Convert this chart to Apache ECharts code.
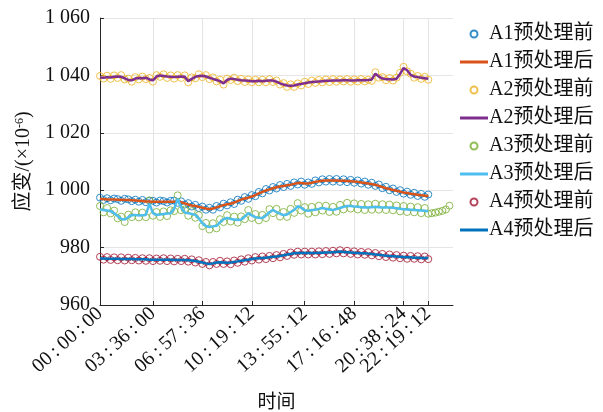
<!DOCTYPE html>
<html>
<head>
<meta charset="utf-8">
<script src="https://cdn.jsdelivr.net/npm/echarts@6/dist/echarts.min.js"></script>
<style>
html, body { margin: 0; padding: 0; background: #fff; }
#main { width: 603px; height: 412px; }
</style>
</head>
<body>
<div id="main"></div>
<script>
// x is the sample index, one sample every 14.4 min
var xTickPos = [0, 15, 29, 43, 58, 72, 86, 93];
var xTickLabels = ['00:00:00', '03:36:00', '06:57:36', '10:19:12', '13:55:12', '17:16:48', '20:38:24', '22:19:12'];
var sensors = ['A1', 'A2', 'A3', 'A4'];

// 预处理前 (raw)
var a1Raw = [997.4, 996.6, 997.2, 996.5, 997.1, 996.9, 996.3, 997.0, 996.8, 996.2,
    996.7, 996.0, 996.6, 995.8, 996.4, 996.3, 995.7, 996.4, 996.2, 995.7,
    996.3, 996.4, 995.6, 996.1, 995.0, 995.5, 994.3, 994.9, 993.8, 994.3,
    993.2, 993.9, 993.2, 994.5, 994.0, 995.3, 994.7, 995.8, 995.2, 996.7,
    996.3, 997.6, 997.0, 998.3, 997.9, 999.4, 998.9, 1000.4, 999.9, 1001.1,
    1000.6, 1001.8, 1001.1, 1002.2, 1001.5, 1002.7, 1002.0, 1003.0, 1001.9, 1002.7,
    1002.2, 1003.4, 1002.7, 1003.8, 1003.0, 1003.9, 1003.0, 1003.9, 1002.9, 1003.8,
    1002.8, 1003.6, 1002.6, 1003.4, 1002.3, 1003.0, 1001.9, 1002.6, 1001.5, 1002.0,
    1000.7, 1001.2, 1000.0, 1000.6, 999.4, 1000.0, 998.8, 999.5, 998.4, 999.1,
    998.0, 998.7, 997.7, 998.5];
var a2Raw = [1039.8, 1038.9, 1039.9, 1038.8, 1040.0, 1039.1, 1040.1, 1038.6, 1038.9, 1037.8,
    1039.4, 1038.6, 1039.6, 1038.7, 1039.1, 1037.8, 1040.1, 1039.5, 1040.4, 1039.1,
    1040.0, 1038.9, 1040.1, 1039.1, 1040.0, 1037.6, 1039.3, 1039.0, 1040.4, 1039.4,
    1040.1, 1038.7, 1039.3, 1037.9, 1038.5, 1036.8, 1038.9, 1038.4, 1039.2, 1038.0,
    1038.8, 1037.7, 1038.6, 1037.6, 1038.5, 1037.6, 1038.5, 1037.6, 1038.7, 1037.7,
    1038.2, 1036.8, 1037.3, 1036.0, 1036.9, 1036.0, 1037.2, 1036.5, 1037.8, 1037.0,
    1038.2, 1037.4, 1038.4, 1037.6, 1038.6, 1037.7, 1038.7, 1037.8, 1038.6, 1037.9,
    1038.7, 1037.8, 1038.6, 1037.9, 1038.7, 1037.9, 1038.5, 1038.1, 1041.1, 1039.2,
    1039.4, 1038.3, 1039.1, 1038.2, 1039.2, 1040.9, 1043.0, 1041.4, 1040.6, 1039.2,
    1039.8, 1038.8, 1039.5, 1038.5];
var a3Raw = [994.5, 992.3, 993.8, 991.9, 992.9, 990.2, 990.8, 988.9, 991.5, 990.6,
    992.3, 990.5, 992.2, 990.6, 996.4, 991.1, 992.4, 990.7, 992.6, 991.0,
    993.0, 992.7, 998.2, 993.0, 993.3, 991.1, 992.7, 990.4, 991.3, 987.5,
    988.6, 986.3, 988.5, 986.7, 989.9, 988.9, 991.3, 989.1, 990.8, 988.7,
    990.9, 989.9, 993.1, 990.3, 991.7, 989.5, 991.4, 990.3, 993.4, 992.0,
    993.5, 990.8, 992.4, 990.7, 993.5, 992.1, 995.5, 992.9, 994.1, 991.8,
    994.2, 992.3, 994.6, 992.9, 994.6, 992.4, 994.2, 992.5, 994.9, 993.3,
    995.6, 993.6, 995.4, 993.3, 995.2, 993.1, 995.1, 993.2, 995.3, 993.2,
    995.1, 993.1, 995.0, 993.0, 994.7, 992.6, 994.5, 992.4, 994.3, 992.3,
    994.1, 992.0, 993.8, 991.8, 992.0, 992.2, 992.5, 992.8, 993.3, 994.6];
var a4Raw = [976.8, 975.8, 976.7, 975.7, 976.6, 975.6, 976.6, 975.5, 976.5, 975.6,
    976.4, 975.5, 976.3, 975.4, 976.3, 975.3, 976.2, 975.4, 976.3, 975.3,
    976.2, 975.2, 976.1, 975.3, 976.1, 975.1, 975.9, 974.8, 975.6, 974.3,
    975.0, 973.8, 975.0, 974.3, 975.4, 974.3, 975.2, 974.2, 975.5, 974.7,
    975.9, 975.1, 976.3, 975.5, 976.7, 975.8, 976.9, 976.0, 977.1, 976.3,
    977.4, 976.6, 977.8, 977.1, 978.3, 977.5, 978.6, 977.6, 978.6, 977.6,
    978.6, 977.6, 978.7, 977.7, 978.8, 977.8, 978.9, 978.0, 979.1, 978.0,
    978.9, 977.8, 978.7, 977.6, 978.5, 977.5, 978.4, 977.3, 978.1, 977.0,
    977.8, 976.7, 977.6, 976.5, 977.4, 976.3, 977.2, 976.1, 977.1, 976.1,
    977.0, 975.9, 976.9, 976.0];

// 预处理后 (smoothed)
var a1Proc = [996.9, 996.9, 996.8, 996.8, 996.8, 996.7, 996.7, 996.6, 996.6, 996.5,
    996.4, 996.3, 996.2, 996.1, 996.1, 996.0, 996.0, 996.0, 996.0, 996.0,
    996.0, 996.0, 996.0, 995.8, 995.4, 995.0, 994.7, 994.5, 994.2, 993.9,
    993.6, 993.4, 993.6, 994.0, 994.4, 994.8, 995.1, 995.3, 995.7, 996.2,
    996.7, 997.1, 997.4, 997.8, 998.3, 998.9, 999.4, 999.9, 1000.3, 1000.7,
    1001.0, 1001.3, 1001.5, 1001.7, 1001.9, 1002.2, 1002.5, 1002.5, 1002.3, 1002.3,
    1002.6, 1002.9, 1003.1, 1003.3, 1003.4, 1003.4, 1003.4, 1003.4, 1003.3, 1003.3,
    1003.2, 1003.1, 1003.0, 1002.9, 1002.7, 1002.5, 1002.3, 1002.1, 1001.9, 1001.5,
    1001.1, 1000.7, 1000.4, 1000.1, 999.8, 999.5, 999.2, 999.0, 998.8, 998.6,
    998.4, 998.2, 998.1, 998.0];
var a2Proc = [1039.3, 1039.2, 1039.4, 1039.3, 1039.5, 1039.6, 1039.5, 1039.0, 1038.4, 1038.3,
    1038.9, 1039.1, 1039.0, 1039.2, 1038.6, 1038.3, 1039.6, 1040.0, 1039.8, 1039.6,
    1039.5, 1039.4, 1039.5, 1039.6, 1039.5, 1038.0, 1038.8, 1039.5, 1039.8, 1039.9,
    1039.6, 1039.2, 1038.8, 1038.4, 1038.0, 1037.2, 1038.4, 1038.9, 1038.7, 1038.5,
    1038.3, 1038.2, 1038.1, 1038.0, 1038.0, 1038.1, 1038.0, 1038.1, 1038.2, 1038.2,
    1037.8, 1037.2, 1036.8, 1036.5, 1036.4, 1036.5, 1036.8, 1037.0, 1037.3, 1037.5,
    1037.7, 1037.8, 1037.9, 1038.0, 1038.1, 1038.1, 1038.2, 1038.2, 1038.2, 1038.3,
    1038.3, 1038.2, 1038.2, 1038.3, 1038.3, 1038.3, 1038.4, 1038.6, 1040.6, 1039.6,
    1038.9, 1038.7, 1038.7, 1038.6, 1038.8, 1040.5, 1042.6, 1041.8, 1040.2, 1039.6,
    1039.4, 1039.2, 1039.0, 1038.8];
var a3Proc = [993.3, 993.1, 992.9, 992.7, 992.0, 991.0, 990.0, 989.8, 990.6, 991.3,
    991.4, 991.2, 991.3, 991.4, 995.3, 992.0, 991.4, 991.5, 991.7, 991.9,
    992.0, 993.5, 997.0, 994.0, 992.2, 992.0, 991.7, 991.4, 990.2, 988.5,
    987.5, 987.2, 987.4, 987.6, 988.8, 989.9, 990.3, 990.0, 989.8, 989.6,
    989.8, 990.8, 992.0, 991.2, 990.6, 990.4, 990.3, 991.2, 992.3, 993.1,
    992.4, 991.8, 991.3, 991.5, 992.4, 993.1, 994.4, 993.9, 993.0, 992.8,
    993.1, 993.2, 993.5, 993.8, 993.5, 993.3, 993.1, 993.4, 993.8, 994.2,
    994.5, 994.5, 994.3, 994.2, 994.1, 994.0, 994.0, 994.1, 994.2, 994.1,
    994.0, 994.0, 994.0, 993.9, 993.7, 993.5, 993.4, 993.3, 993.2, 993.1,
    993.0, 992.9, 992.8, 992.7];
var a4Proc = [976.2, 976.2, 976.1, 976.1, 976.1, 976.1, 976.0, 976.0, 976.0, 976.0,
    975.9, 975.9, 975.9, 975.9, 975.8, 975.8, 975.8, 975.8, 975.8, 975.8,
    975.8, 975.7, 975.7, 975.7, 975.7, 975.6, 975.5, 975.3, 975.1, 974.8,
    974.5, 974.3, 974.5, 974.8, 974.9, 974.8, 974.7, 974.8, 975.0, 975.2,
    975.4, 975.6, 975.8, 976.0, 976.2, 976.3, 976.4, 976.5, 976.6, 976.8,
    976.9, 977.1, 977.3, 977.6, 977.8, 978.0, 978.1, 978.1, 978.1, 978.1,
    978.1, 978.1, 978.2, 978.2, 978.3, 978.3, 978.4, 978.5, 978.6, 978.5,
    978.4, 978.3, 978.2, 978.1, 978.0, 978.0, 977.9, 977.8, 977.6, 977.5,
    977.3, 977.2, 977.1, 977.0, 976.9, 976.8, 976.7, 976.6, 976.6, 976.5,
    976.5, 976.4, 976.4, 976.4];

var rawData = [a1Raw, a2Raw, a3Raw, a4Raw];
var procData = [a1Proc, a2Proc, a3Proc, a4Proc];
var rawColors = ['#0072BD', '#EDB120', '#77AC30', '#A2142F'];
var procColors = ['#D95319', '#7E2F8E', '#4DBEEE', '#0072BD'];

var FONT = "'Liberation Serif', 'Times New Roman', 'Noto Sans CJK SC', serif";
var LINE_ICON = 'path://M0,0H28V3H0Z';

function toPoints(arr) {
    return arr.map(function (v, i) { return [i, v]; });
}

function tickLabel(v) {
    var k = xTickPos.indexOf(v);
    return k >= 0 ? xTickLabels[k].replace(/:/g, '\u2009:\u2009') : '';
}

var series = [];
var legendData = [];
sensors.forEach(function (s, k) {
    legendData.push({ name: s + '预处理前' });
    legendData.push({ name: s + '预处理后', icon: LINE_ICON });
    series.push({
        name: s + '预处理前',
        type: 'scatter',
        symbol: 'circle',
        symbolSize: 7,
        itemStyle: { color: 'rgba(0,0,0,0)', borderColor: rawColors[k], borderWidth: 1 },
        data: toPoints(rawData[k])
    });
    series.push({
        name: s + '预处理后',
        type: 'line',
        symbol: 'none',
        lineStyle: { color: procColors[k], width: 2.5 },
        itemStyle: { color: procColors[k] },
        data: toPoints(procData[k])
    });
});

var labelStyle = {
    rotate: 42,
    margin: 6,
    hideOverlap: false,
    fontFamily: FONT,
    fontSize: 20,
    color: '#111',
    formatter: tickLabel
};

var chart = echarts.init(document.getElementById('main'));
var option = {
    animation: false,
    backgroundColor: '#fff',
    grid: { left: 100, right: 150, top: 18, bottom: 107, outerBoundsMode: 'none', containLabel: false },
    legend: {
        orient: 'vertical',
        left: 455,
        top: 19,
        itemWidth: 28,
        itemHeight: 7,
        itemGap: 8,
        data: legendData,
        textStyle: { fontFamily: FONT, fontSize: 20, color: '#111', padding: [0, 0, 0, -4] }
    },
    xAxis: [{
        type: 'value',
        min: 0,
        max: 100,
        name: '时间',
        nameLocation: 'middle',
        nameGap: 89,
        nameTextStyle: { fontFamily: FONT, fontSize: 19, color: '#111' },
        axisLine: { lineStyle: { color: '#262626', width: 1 } },
        axisTick: { inside: true, length: 4, customValues: xTickPos, lineStyle: { color: '#262626' } },
        axisLabel: Object.assign({ customValues: xTickPos.slice(0, -1) }, labelStyle),
        splitLine: { show: true, lineStyle: { color: '#e5e5e5', width: 1 } }
    }, {
        // the last tick label overlaps its neighbour in the original, so it sits on its own axis
        type: 'value',
        position: 'bottom',
        offset: 0,
        min: 0,
        max: 100,
        axisLine: { show: false },
        axisTick: { show: false },
        splitLine: { show: false },
        axisLabel: Object.assign({ customValues: xTickPos.slice(-1) }, labelStyle)
    }],
    yAxis: {
        type: 'value',
        min: 960,
        max: 1060,
        interval: 20,
        name: '应变/(×10{sup|-6})',
        nameLocation: 'middle',
        nameGap: 59,
        nameTextStyle: {
            fontFamily: FONT, fontSize: 20, color: '#111',
            rich: { sup: { fontFamily: FONT, fontSize: 12, color: '#111', verticalAlign: 'top', lineHeight: 12 } }
        },
        axisLine: { show: true, lineStyle: { color: '#262626', width: 1 } },
        axisTick: { show: true, inside: true, length: 4, lineStyle: { color: '#262626' } },
        axisLabel: {
            margin: 10,
            fontFamily: FONT,
            fontSize: 20,
            color: '#111',
            formatter: function (v) {
                return v >= 1000 ? String(v).replace(/^(\d)(\d{3})$/, '$1 $2') : String(v);
            }
        },
        splitLine: { show: true, lineStyle: { color: '#e5e5e5', width: 1 } }
    },
    series: series
};
chart.setOption(option);
</script>
</body>
</html>
